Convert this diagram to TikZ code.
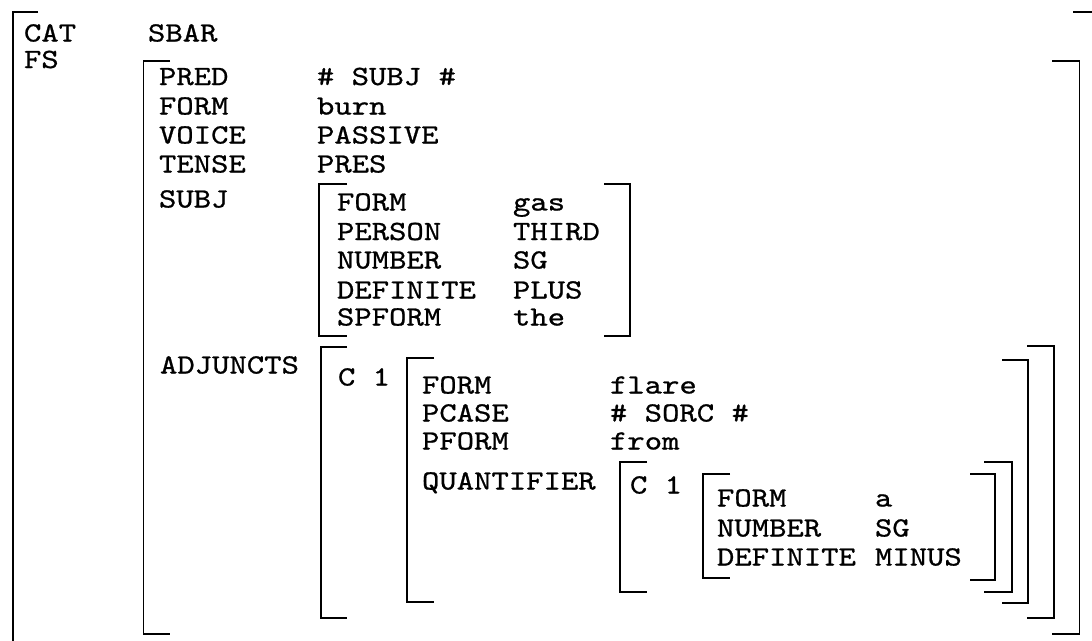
\documentclass[tikz,border=0pt]{standalone}
\usepackage{fontspec}
\newfontfamily\cour{lmmono10-regular.otf}[FakeStretch=1.19,FakeBold=0.8]
\tikzset{
  txt/.style={anchor=base west, inner sep=0pt, outer sep=0pt, font=\cour\fontsize{27.8}{30}\selectfont},
  br/.style={draw=black, line width=1.8pt, line join=miter}
}
% #1 vertical x, #2 tick end x, #3 top y, #4 bottom y
\newcommand\bracketdraw[4]{\draw[br] (#2,#3) -- (#1,#3) -- (#1,#4) -- (#2,#4);}
\begin{document}
\begin{tikzpicture}[x=1pt,y=-1pt]
\path[use as bounding box, fill=white] (0,0) rectangle (1092,640);
\clip (0,0) rectangle (1092,640);
% outer bracket (partly off the page)
\draw[br] (38,12) -- (13,12) -- (13,660);
\draw[br] (1073,12) -- (1100,12);
\node[txt] (cat) at (24,41.5) {CAT};
\node[txt] (sbar) at (148,41.5) {SBAR};
\node[txt] (fs) at (24,68) {FS};
% FS bracket
\bracketdraw{143.5}{170}{61}{634}
\bracketdraw{1079.5}{1052}{61}{634}
\node[txt] (l1) at (159,85) {PRED};   \node[txt] (v1) at (317,85) {\# SUBJ \#};
\node[txt] (l2) at (159,114.5) {FORM};  \node[txt] (v2) at (317,114.5) {burn};
\node[txt] (l3) at (159,143.5) {VOICE}; \node[txt] (v3) at (317,143.5) {PASSIVE};
\node[txt] (l4) at (159,172.5) {TENSE}; \node[txt] (v4) at (317,172.5) {PRES};
\node[txt] (l5) at (159,207.5) {SUBJ};
% SUBJ bracket
\bracketdraw{319}{347}{184}{336}
\bracketdraw{630}{604}{184}{336}
\node[txt] (s1) at (337,210.5) {FORM};     \node[txt] (t1) at (513,210.5) {gas};
\node[txt] (s2) at (337,240) {PERSON};     \node[txt] (t2) at (513,240) {THIRD};
\node[txt] (s3) at (337,268.5) {NUMBER};   \node[txt] (t3) at (513,268.5) {SG};
\node[txt] (s4) at (337,298.5) {DEFINITE}; \node[txt] (t4) at (513,298.5) {PLUS};
\node[txt] (s5) at (337,325.5) {SPFORM};   \node[txt] (t5) at (513,325.5) {the};
% ADJUNCTS
\node[txt] (l6) at (160,373.5) {ADJUNCTS};
\bracketdraw{321}{347}{347}{618}
\bracketdraw{1054}{1027}{346}{618}
\node[txt] (c1) at (338,385.5) {C 1};
\bracketdraw{407}{434}{358}{602}
\bracketdraw{1028}{1002}{360}{603}
\node[txt] (a1) at (422,393.5) {FORM};       \node[txt] (b1) at (610,393.5) {flare};
\node[txt] (a2) at (422,421.5) {PCASE};      \node[txt] (b2) at (610,421.5) {\# SORC \#};
\node[txt] (a3) at (422,449.5) {PFORM};      \node[txt] (b3) at (610,449.5) {from};
\node[txt] (a4) at (422,489.5) {QUANTIFIER};
% QUANTIFIER value
\bracketdraw{620}{647}{462}{592}
\bracketdraw{1012}{984}{462}{592}
\node[txt] (c2) at (630,493.5) {C 1};
\bracketdraw{703}{730}{474}{578}
\bracketdraw{995}{970}{474}{580}
\node[txt] (q1) at (717,506.5) {FORM};     \node[txt] (r1) at (875,506.5) {a};
\node[txt] (q2) at (717,536.5) {NUMBER};   \node[txt] (r2) at (875,536.5) {SG};
\node[txt] (q3) at (717,565.5) {DEFINITE}; \node[txt] (r3) at (875,565.5) {MINUS};
\end{tikzpicture}
\end{document}
